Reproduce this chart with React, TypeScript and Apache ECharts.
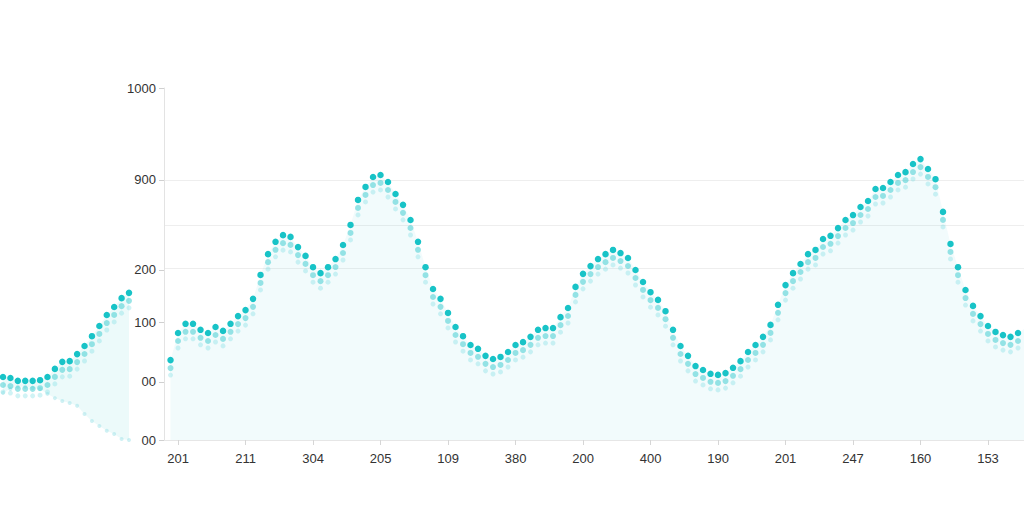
import React, { useEffect, useRef } from "react";
import * as echarts from "echarts";

// x-axis tick labels (as printed)
const xLabels = ["201", "211", "304", "205", "109", "380", "200", "400", "190", "201", "247", "160", "153"];
// y-axis tick labels (as printed) and their positions on the value scale
const yLabels = ["00", "00", "100", "200", "900", "1000"];
const yLabelValues = [0, 165, 335, 483, 739, 1000];
// faint horizontal guide lines
const guideValues = [739, 611, 489];

// main curve, one value per dot (first dot sits just before the first label)
const mainValues = [
  227, 304, 330, 330, 313, 304, 321, 310, 330, 352,
  369, 401, 469, 528, 563, 582, 577, 548, 523, 491,
  474, 491, 514, 554, 611, 682, 719, 747, 753, 733,
  699, 668, 625, 563, 491, 429, 401, 361, 321, 295,
  270, 259, 239, 230, 236, 250, 270, 278, 293, 313,
  318, 318, 349, 375, 435, 472, 494, 514, 528, 540,
  531, 517, 483, 449, 420, 398, 366, 313, 267, 239,
  210, 199, 188, 185, 190, 205, 224, 250, 270, 293,
  327, 384, 440, 474, 500, 528, 540, 571, 580, 602,
  625, 639, 662, 679, 713, 716, 733, 753, 761, 784,
  798, 770, 741, 648, 557, 491, 426, 381, 352, 324,
  307, 298, 293, 304, 318,
];

// detached fragment on the far left
const fragTop = [179, 176, 168, 168, 168, 170, 179, 202, 222, 224, 244, 267, 295, 324, 355, 378, 403, 418];
const fragMirror = [134, 145, 151, 151, 148, 145, 131, 119, 111, 105, 97, 74, 54, 40, 26, 17, 3, 0];

const DARK = "#18c3c7";
const MID = "rgba(70,205,210,0.55)";
const LIGHT = "rgba(120,220,225,0.35)";
const FONT = "'Liberation Sans', Arial, sans-serif";

export default function App() {
  const ref = useRef<HTMLDivElement>(null);
  useEffect(() => {
    if (!ref.current) return;
    const chart = echarts.init(ref.current, null, { renderer: "svg" });
    const mainData = mainValues.map((v, i) => [i - 1, v]);
    const fragTopData = fragTop.map((v, i) => [i, v]);
    const fragMirrorData = fragMirror.map((v, i) => [i, v]);
    const xTickVals = xLabels.map((_, i) => i * 9);

    const dotSeries = (data: any, xi: number, offset: number, color: string, size: number, z: number) => ({
      type: "line",
      xAxisIndex: xi,
      yAxisIndex: xi,
      data,
      symbol: "circle",
      symbolSize: size,
      symbolOffset: [0, offset],
      showSymbol: true,
      lineStyle: { width: 0, opacity: 0 },
      itemStyle: { color },
      silent: true,
      z,
    });

    chart.setOption({
      animation: false,
      backgroundColor: "#ffffff",
      grid: [
        { left: 164, right: 0, top: 88, bottom: 72, containLabel: false },
        { left: 3, width: 126, top: 88, bottom: 72, containLabel: false },
      ],
      xAxis: [
        {
          type: "value",
          gridIndex: 0,
          min: -1.87,
          max: 112.8,
          axisLine: { show: true, onZero: false, lineStyle: { color: "#e6e6e6" } },
          axisTick: { show: true, customValues: xTickVals, length: 5, lineStyle: { color: "#d6d6d6" } },
          axisLabel: {
            show: true,
            customValues: xTickVals,
            formatter: (v: number) => xLabels[Math.round(v / 9)] ?? "",
            color: "#333",
            fontFamily: FONT,
            fontSize: 13,
            margin: 12,
          },
          splitLine: { show: false },
        },
        {
          type: "value",
          gridIndex: 1,
          min: 0,
          max: 17,
          show: false,
        },
      ],
      yAxis: [
        {
          type: "value",
          gridIndex: 0,
          min: 0,
          max: 1000,
          axisLine: { show: true, onZero: false, lineStyle: { color: "#e3e3e3" } },
          axisTick: { show: true, customValues: yLabelValues, length: 5, lineStyle: { color: "#d0d0d0" } },
          axisLabel: {
            show: true,
            customValues: yLabelValues,
            formatter: (v: number) => {
              const i = yLabelValues.indexOf(v);
              return i >= 0 ? yLabels[i] : "";
            },
            color: "#333",
            fontFamily: FONT,
            fontSize: 13,
            margin: 8,
          },
          splitLine: { show: false },
        },
        {
          type: "value",
          gridIndex: 1,
          min: 0,
          max: 1000,
          show: false,
        },
      ],
      series: [
        {
          type: "line",
          xAxisIndex: 0,
          yAxisIndex: 0,
          data: mainData,
          showSymbol: false,
          lineStyle: { width: 0, opacity: 0 },
          areaStyle: { color: "rgba(110,215,220,0.13)" },
          silent: true,
          z: 1,
          markLine: {
            silent: true,
            z: 0,
            symbol: "none",
            label: { show: false },
            lineStyle: { color: "#eeeeee", width: 1, type: "solid" },
            data: guideValues.map((v) => ({ yAxis: v })),
          },
        },
        dotSeries(mainData, 0, 15, LIGHT, 5, 2),
        dotSeries(mainData, 0, 8, MID, 6, 3),
        dotSeries(mainData, 0, 0, DARK, 6.5, 4),
        {
          type: "line",
          xAxisIndex: 1,
          yAxisIndex: 1,
          data: fragTopData,
          showSymbol: false,
          lineStyle: { width: 0, opacity: 0 },
          areaStyle: { color: "rgba(110,215,220,0.13)", opacity: 1 },
          silent: true,
          z: 1,
        },
        {
          type: "line",
          xAxisIndex: 1,
          yAxisIndex: 1,
          data: fragMirrorData,
          symbol: "circle",
          symbolSize: 4,
          showSymbol: true,
          itemStyle: { color: "rgba(150,225,230,0.45)" },
          lineStyle: { width: 0, opacity: 0 },
          areaStyle: { color: "#ffffff", opacity: 1 },
          silent: true,
          z: 2,
        },
        dotSeries(fragTopData, 1, 15, LIGHT, 5, 3),
        dotSeries(fragTopData, 1, 8, MID, 6, 3),
        dotSeries(fragTopData, 1, 0, DARK, 6.5, 4),
      ],
    });
    return () => chart.dispose();
  }, []);
  return (
    <div
      ref={ref}
      style={{ position: "fixed", left: 0, top: 0, width: 1024, height: 512, background: "#fff" }}
    />
  );
}
